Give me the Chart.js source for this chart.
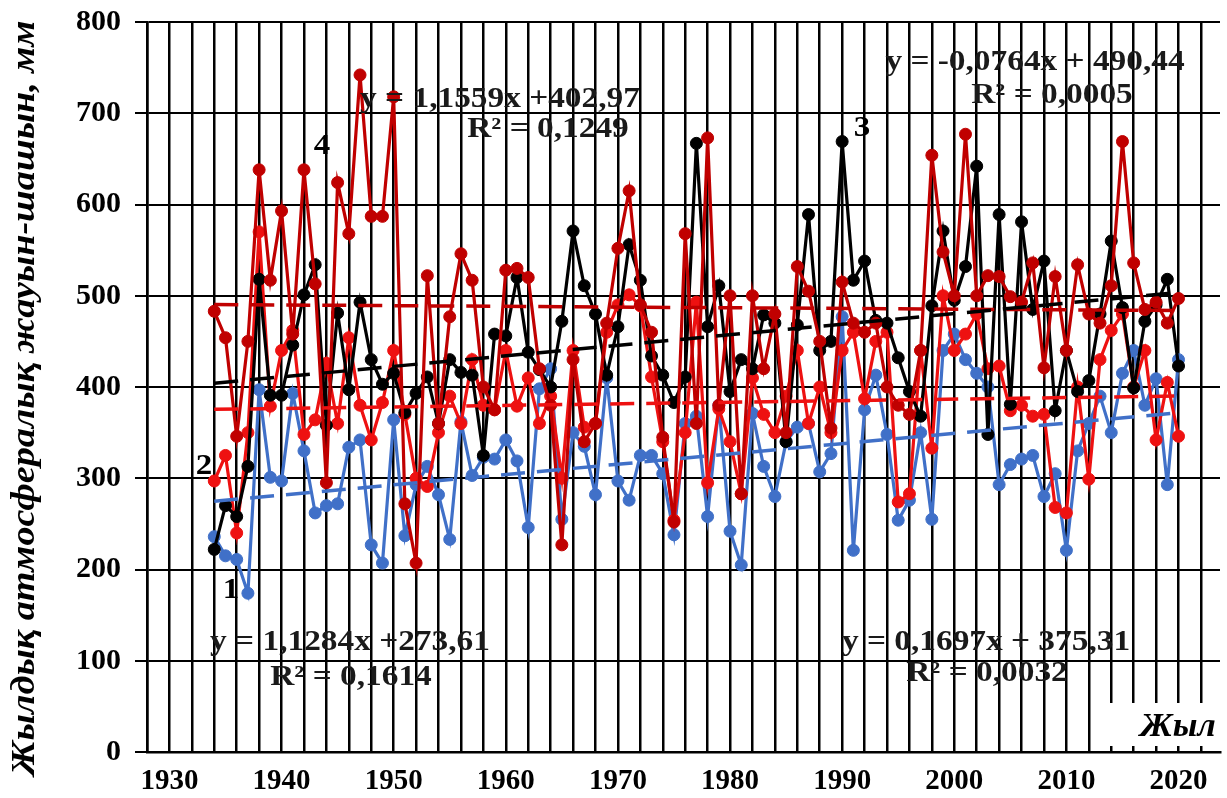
<!DOCTYPE html>
<html>
<head>
<meta charset="utf-8">
<script src="https://cdn.jsdelivr.net/npm/chart.js@4.4.0/dist/chart.umd.min.js"></script>
<style>
  html, body { margin: 0; padding: 0; background: #fff; }
  #wrap { width: 1227px; height: 798px; }
</style>
</head>
<body>
<div id="wrap"><canvas id="rainChart" width="1227" height="798"></canvas></div>
<script>
// years of observation
const years = [
  1934, 1935, 1936, 1937, 1938, 1939,
  1940, 1941, 1942, 1943, 1944, 1945, 1946, 1947, 1948, 1949,
  1950, 1951, 1952, 1953, 1954, 1955, 1956, 1957, 1958, 1959,
  1960, 1961, 1962, 1963, 1964, 1965, 1966, 1967, 1968, 1969,
  1970, 1971, 1972, 1973, 1974, 1975, 1976, 1977, 1978, 1979,
  1980, 1981, 1982, 1983, 1984, 1985, 1986, 1987, 1988, 1989,
  1990, 1991, 1992, 1993, 1994, 1995, 1996, 1997, 1998, 1999,
  2000, 2001, 2002, 2003, 2004, 2005, 2006, 2007, 2008, 2009,
  2010, 2011, 2012, 2013, 2014, 2015, 2016, 2017, 2018, 2019, 2020
];

// station 1 (blue)
const series1 = [
  236, 215, 211, 174, 397, 301,
  297, 393, 330, 262, 270, 272, 334, 342, 227, 207,
  364, 237, 293, 313, 282, 233, 362, 303, 323, 321,
  342, 319, 246, 398, 420, 255, 350, 335, 282, 410,
  297, 276, 325, 325, 305, 238, 360, 368, 258, 380,
  242, 205, 371, 313, 280, 340, 356, 360, 307, 327,
  477, 221, 375, 413, 348, 254, 276, 350, 255, 440,
  458, 430, 415, 400, 293, 315, 321, 325, 280, 305,
  221, 330, 360, 390, 350, 415, 440, 380, 409, 293, 430
];

// station 2 (red)
const series2 = [
  297, 325, 240, 350, 570, 379,
  440, 462, 348, 364, 426, 360, 454, 380, 342, 383,
  440, 370, 300, 291, 350, 390, 360, 430, 380, 375,
  440, 379, 410, 360, 390, 300, 440, 356, 360, 460,
  490, 501, 489, 411, 340, 254, 350, 493, 295, 376,
  340, 283, 410, 370, 350, 390, 440, 360, 400, 350,
  440, 460, 387, 450, 460, 274, 283, 440, 333, 500,
  440, 458, 480, 420, 423, 374, 380, 368, 370, 268,
  262, 400, 299, 430, 462, 480, 400, 440, 342, 405, 346
];

// station 3 (black)
const series3 = [
  222, 270, 258, 313, 518, 391,
  391, 446, 501, 534, 358, 481, 397, 493, 430, 403,
  415, 372, 393, 411, 360, 430, 416, 413, 325, 458,
  456, 520, 438, 419, 400, 472, 571, 511, 480, 413,
  466, 556, 517, 434, 413, 383, 411, 667, 466, 511,
  395, 430, 420, 479, 470, 340, 468, 589, 440, 450,
  669, 517, 538, 473, 470, 432, 395, 368, 489, 571,
  495, 532, 642, 348, 589, 381, 581, 485, 538, 374,
  440, 395, 407, 480, 560, 487, 399, 472, 490, 518, 423
];

// station 4 (dark red)
const series4 = [
  483, 454, 346, 450, 638, 517,
  593, 458, 638, 513, 295, 624, 568, 742, 587, 587,
  718, 272, 207, 522, 360, 477, 546, 517, 400, 375,
  528, 530, 520, 420, 380, 227, 430, 340, 360, 470,
  552, 615, 490, 460, 345, 252, 568, 360, 673, 380,
  500, 283, 500, 420, 480, 350, 532, 505, 450, 355,
  515, 470, 460, 470, 400, 380, 370, 440, 654, 548,
  500, 677, 500, 522, 521, 499, 493, 536, 421, 521,
  440, 534, 480, 470, 511, 669, 536, 485, 493, 470, 497
];

// linear trend coefficients as printed on the chart (x = year index from 1)
const trendSlope = [1.1284, 0.1697, 1.1559, -0.0764];
const trendIntercept = [273.61, 375.31, 402.97, 490.44];
const trendText = [
  ['y = 1,1284x +273,61', 'R² = 0,1614'],
  ['y = 0,1697x + 375,31', 'R² = 0,0032'],
  ['y = 1,1559x +402,97', 'R² = 0,1249'],
  ['y = -0,0764x + 490,44', 'R² = 0,0005']
];
const seriesNames = ['1', '2', '3', '4'];
const yTicks = [0, 100, 200, 300, 400, 500, 600, 700, 800];
const xLabelYears = [1930, 1940, 1950, 1960, 1970, 1980, 1990, 2000, 2010, 2020];

const allSeries = [series1, series2, series3, series4];
const colors = ['#4070c8', '#ee1111', '#000000', '#c00000'];
const drawOrder = [4, 3, 2, 1];

function toPoints(values) {
  return years.map((yr, i) => ({ x: yr, y: values[i] }));
}
function trendPoints(k) {
  const first = years[0], last = years[years.length - 1];
  return [first, last].map(yr => ({ x: yr, y: trendSlope[k] * (yr - first + 1) + trendIntercept[k] }));
}

const datasets = [];
allSeries.forEach((vals, k) => {
  datasets.push({
    label: seriesNames[k],
    data: toPoints(vals),
    borderColor: colors[k],
    backgroundColor: colors[k],
    pointBackgroundColor: colors[k],
    pointBorderColor: colors[k],
    borderWidth: 3.2,
    pointRadius: 6,
    pointBorderWidth: 1,
    tension: 0,
    order: drawOrder[k]
  });
});
allSeries.forEach((vals, k) => {
  datasets.push({
    label: 'trend ' + seriesNames[k],
    data: trendPoints(k),
    borderColor: colors[k],
    borderWidth: 3.5,
    borderDash: [24, 12],
    pointRadius: 0,
    tension: 0,
    order: 0
  });
});

const serif = '"Liberation Serif", "Times New Roman", serif';

// stretched text helper (reference fonts are a bit wider than Times)
function wideText(ctx, text, x, y, font, stretch) {
  ctx.save();
  ctx.font = font;
  ctx.translate(x, y);
  ctx.scale(stretch, 1);
  ctx.fillText(text, 0, 0);
  ctx.restore();
}

const textPlugin = {
  id: 'chartTexts',
  beforeDatasetsDraw(chart) {
    const ctx = chart.ctx;
    // white box behind the axis name
    ctx.save();
    ctx.fillStyle = '#fff';
    ctx.fillRect(1097, 703, 130, 43);
    ctx.restore();
  },
  afterDraw(chart) {
    const ctx = chart.ctx;
    ctx.save();
    ctx.fillStyle = '#1a1a1a';
    ctx.textAlign = 'center';
    ctx.textBaseline = 'middle';
    const eqFont = 'bold 29px ' + serif;
    // trend equations
    wideText(ctx, trendText[2][0], 500, 100, eqFont, 1.15);
    wideText(ctx, trendText[2][1], 548, 130, eqFont, 1.15);
    wideText(ctx, trendText[3][0], 1035, 63, eqFont, 1.15);
    wideText(ctx, trendText[3][1], 1052, 96, eqFont, 1.15);
    wideText(ctx, trendText[0][0], 350, 643, eqFont, 1.15);
    wideText(ctx, trendText[0][1], 351, 678, eqFont, 1.15);
    wideText(ctx, trendText[1][0], 986, 643, eqFont, 1.15);
    wideText(ctx, trendText[1][1], 987, 674, eqFont, 1.15);
    // series numbers
    ctx.fillStyle = '#000';
    const numFont = 'bold 30px ' + serif;
    wideText(ctx, seriesNames[0], 231, 590, numFont, 1.1);
    wideText(ctx, seriesNames[1], 204, 466, numFont, 1.1);
    wideText(ctx, seriesNames[2], 862, 128, numFont, 1.1);
    wideText(ctx, seriesNames[3], 322, 146, numFont, 1.1);
    // x axis name
    wideText(ctx, 'Жыл', 1178, 727, 'italic bold 34px ' + serif, 1.05);
    // y axis title, fitted to the plot height
    const title = 'Жылдық атмосфералық жауын-шашын, мм';
    ctx.font = 'italic bold 34px ' + serif;
    const w = ctx.measureText(title).width;
    ctx.translate(25, 398);
    ctx.rotate(-Math.PI / 2);
    ctx.scale(755 / w, 1);
    ctx.fillText(title, 0, 0);
    ctx.restore();
  }
};

new Chart(document.getElementById('rainChart'), {
  type: 'line',
  data: { datasets: datasets },
  options: {
    responsive: false,
    animation: false,
    devicePixelRatio: 1,
    layout: { padding: { top: 22, right: 0, left: 0, bottom: 0 } },
    plugins: {
      legend: { display: false },
      tooltip: { enabled: false }
    },
    scales: {
      x: {
        type: 'linear',
        min: 1928,
        max: 2023.7,
        ticks: {
          stepSize: 2,
          includeBounds: false,
          autoSkip: false,
          maxRotation: 0,
          padding: 12,
          color: '#000',
          font: { family: serif, weight: 'bold', size: 29 },
          callback: v => xLabelYears.includes(v) ? String(v) : ''
        },
        grid: { color: '#000', lineWidth: 2.5, drawTicks: false },
        border: { color: '#000', width: 2.5 },
        afterFit: s => { s.height = 46; s.paddingLeft = 0; s.paddingRight = 0; }
      },
      y: {
        min: 0,
        max: 800,
        afterBuildTicks: s => { s.ticks = yTicks.map(v => ({ value: v })); },
        ticks: {
          padding: 14,
          color: '#000',
          font: { family: serif, weight: 'bold', size: 30 }
        },
        grid: { color: '#000', lineWidth: 2, tickLength: 12 },
        border: { color: '#000', width: 2.5 },
        afterFit: s => { s.width = 147; s.paddingTop = 0; s.paddingBottom = 0; }
      }
    }
  },
  plugins: [textPlugin]
});
</script>
</body>
</html>
